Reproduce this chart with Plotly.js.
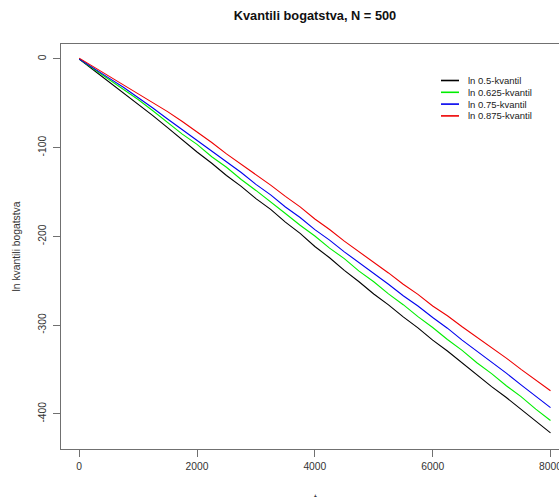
<!DOCTYPE html>
<html>
<head>
<meta charset="utf-8">
<script src="https://cdn.plot.ly/plotly-3.0.1.min.js"></script>
<style>
  html, body { margin: 0; padding: 0; overflow: hidden; background: #fff; }
  #chart { width: 575px; height: 497px; }
</style>
</head>
<body>
<div id="chart"></div>
<script>
// time steps
var t = [0, 250, 500, 750, 1000, 1250, 1500, 1750, 2000, 2250, 2500, 2750, 3000, 3250, 3500, 3750,
         4000, 4250, 4500, 4750, 5000, 5250, 5500, 5750, 6000, 6250, 6500, 6750, 7000, 7250, 7500, 7750, 8000];

// ln 0.5-kvantil
var q500 = [0, -12.8, -25.3, -37.6, -50.6, -63.9, -77.4, -91.2, -104.9, -117.6, -131.4, -143.6, -157.5, -169.6,
            -183.9, -196.6, -211.4, -224.1, -238.3, -251.2, -264.9, -277.2, -290.8, -303.2, -316.9, -329.2,
            -342.8, -355.6, -369.4, -381.7, -395.3, -408.2, -421.5];
// ln 0.625-kvantil
var q625 = [0, -11.5, -22.2, -34.4, -45.6, -58.4, -71.2, -84.7, -96.2, -110.2, -122.1, -135.9, -148.2, -161.7,
            -174.2, -187.4, -199.6, -213.2, -225.1, -239.2, -251.2, -264.8, -277.0, -290.5, -302.7, -316.3,
            -328.5, -342.5, -354.7, -368.4, -380.7, -394.8, -407.5];
// ln 0.75-kvantil
var q750 = [0, -10.2, -21.3, -31.9, -43.4, -55.2, -67.6, -79.5, -91.4, -103.2, -115.9, -128.0, -141.4, -153.2,
            -166.9, -178.7, -192.4, -204.2, -217.4, -229.5, -242.4, -254.0, -266.9, -278.5, -291.4, -303.5,
            -316.9, -329.2, -342.4, -354.2, -367.4, -380.0, -393.0];
// ln 0.875-kvantil
var q875 = [1, -9.0, -18.8, -28.4, -38.4, -48.6, -59.3, -70.4, -81.9, -94.2, -107.0, -118.7, -131.4, -142.2,
            -154.9, -166.7, -180.4, -192.2, -205.4, -217.2, -229.9, -241.2, -253.9, -265.4, -278.4, -289.4,
            -301.9, -313.5, -325.9, -337.2, -349.9, -361.7, -374.0];

var seriesNames = ["ln 0.5-kvantil", "ln 0.625-kvantil", "ln 0.75-kvantil", "ln 0.875-kvantil"];
var seriesValues = [q500, q625, q750, q875];
var seriesColors = ["#000000", "#00ee00", "#0000ee", "#ee0000"];

var xTicks = [0, 2000, 4000, 6000, 8000];
var yTicks = [0, -100, -200, -300, -400];

var FONT = "Liberation Sans, Arial, sans-serif";

// plot area in page pixels (used to place the legend compactly, like R's legend)
var W = 575, H = 497, ML = 61, MR = 6, MT = 44, MB = 48;
var PW = W - ML - MR, PH = H - MT - MB;
function px(xp) { return (xp - ML) / PW; }
function py(yp) { return 1 - (yp - MT) / PH; }

var traces = seriesValues.map(function (v, i) {
  return {
    x: t, y: v, type: "scatter", mode: "lines",
    name: seriesNames[i], showlegend: false,
    line: { color: seriesColors[i], width: 1.1 }
  };
});

// compact legend (R-style, no box)
var legShapes = [], legAnn = [];
var legTop = 80.5, legStep = 11.8;
seriesNames.forEach(function (name, i) {
  var yy = py(legTop + i * legStep);
  legShapes.push({
    type: "line", xref: "paper", yref: "paper",
    x0: px(441), x1: px(459), y0: yy, y1: yy,
    line: { color: seriesColors[i], width: 1.6 }
  });
  legAnn.push({
    xref: "paper", yref: "paper", x: px(466), y: yy,
    xanchor: "left", yanchor: "middle", showarrow: false,
    text: name, font: { family: FONT, size: 9.5, color: "#222222" }
  });
});
// x-axis title "t" sits at the very bottom edge, as in the reference
legAnn.push({
  xref: "paper", yref: "paper", x: 0.5, y: 0, xanchor: "center", yanchor: "top",
  yshift: -42, showarrow: false, text: "t",
  font: { family: FONT, size: 10.3, color: "#333333" }
});

var layout = {
  width: W, height: H,
  margin: { l: ML, r: MR, t: MT, b: MB },
  paper_bgcolor: "#ffffff", plot_bgcolor: "#ffffff",
  font: { family: FONT, color: "#333333", size: 10.3 },
  title: {
    text: "<b>Kvantili bogatstva, N = 500</b>",
    font: { family: FONT, size: 12.8, color: "#111111" },
    x: 0.5, xref: "paper", xanchor: "center",
    y: 1, yref: "container", yanchor: "top", pad: { t: 11 }
  },
  showlegend: false,
  shapes: legShapes,
  annotations: legAnn,
  xaxis: {
    range: [-309, 8314], tickvals: xTicks, ticktext: xTicks.map(String),
    showgrid: false, zeroline: false,
    showline: true, mirror: true, linecolor: "#707070", linewidth: 1.2,
    ticks: "outside", ticklen: 7, tickcolor: "#707070", tickwidth: 1,
    tickfont: { family: FONT, size: 10.3, color: "#333333" }
  },
  yaxis: {
    range: [-439.7, 16.9], tickvals: yTicks, ticktext: yTicks.map(String),
    showgrid: false, zeroline: false,
    showline: true, mirror: true, linecolor: "#707070", linewidth: 1.2,
    ticks: "outside", ticklen: 7, tickcolor: "#707070", tickwidth: 1,
    tickangle: -90, ticklabelstandoff: 3,
    tickfont: { family: FONT, size: 10.3, color: "#333333" },
    title: { text: "ln kvantili bogatstva", font: { family: FONT, size: 10.3, color: "#333333" }, standoff: 14 }
  }
};

Plotly.newPlot("chart", traces, layout, { displayModeBar: false, staticPlot: true });
</script>
</body>
</html>
